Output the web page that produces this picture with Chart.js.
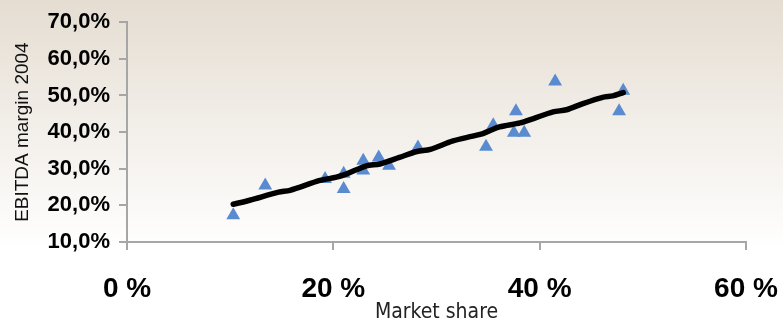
<!DOCTYPE html>
<html>
<head>
<meta charset="utf-8">
<script src="https://cdn.jsdelivr.net/npm/chart.js@4"></script>
<style>
  html, body { margin: 0; padding: 0; background: #fff; }
  #wrap { width: 783px; height: 327px; position: relative; }
</style>
</head>
<body>
<div id="wrap"><canvas id="shareChart"></canvas></div>
<script>
// market share (%) vs EBITDA margin (%) per operator
const shareX = [10.3, 13.4, 19.2, 21.0, 21.0, 22.9, 22.9, 24.4, 25.4, 28.2, 34.8, 35.5, 37.7, 37.5, 38.5, 41.5, 47.7, 48.1];
const marginY = [17.3, 25.4, 27.2, 28.6, 24.5, 32.2, 29.5, 33.1, 30.8, 35.8, 36.0, 41.9, 45.7, 39.8, 39.8, 53.8, 45.7, 51.3];

// smoothed trend through the cloud
const trendX = [10.3, 11.9, 14.7, 15.8, 18.7, 20.3, 21.3, 23.2, 24.5, 26.4, 28.1, 29.4, 31.6, 33.5, 34.5, 36.1, 38.1, 39.4, 41.3, 42.6, 44.2, 46.1, 47.1, 48.1];
const trendY = [20.3, 21.4, 23.6, 24.1, 26.8, 27.7, 28.6, 30.8, 31.3, 33.1, 34.7, 35.3, 37.6, 38.9, 39.6, 41.4, 42.5, 43.7, 45.5, 46.1, 47.8, 49.5, 49.9, 50.8];

const xTicks = [0, 20, 40, 60];
const yTicks = [10, 20, 30, 40, 50, 60, 70];

let points = shareX.map(function (x, i) { return { x: x, y: marginY[i] }; });
let trend = trendX.map(function (x, i) { return { x: x, y: trendY[i] }; });

// beige-to-white wash behind everything
const bgPlugin = {
  id: "bgWash",
  beforeDraw: function (chart) {
    let c = chart.ctx;
    let g = c.createLinearGradient(0, 0, 0, 250);
    g.addColorStop(0, "#e5ddd2");
    g.addColorStop(1, "#ffffff");
    c.save();
    c.fillStyle = g;
    c.fillRect(0, 0, chart.width, chart.height);
    c.restore();
  },
};

let ctx = document.getElementById("shareChart").getContext("2d");
new Chart(ctx, {
  type: "scatter",
  data: {
    datasets: [
      {
        label: "trend",
        data: trend,
        showLine: true,
        borderColor: "#000000",
        borderWidth: 5.5,
        borderCapStyle: "round",
        tension: 0.3,
        pointRadius: 0,
      },
      {
        label: "operators",
        data: points,
        pointStyle: "triangle",
        pointRadius: 8,
        backgroundColor: "#5a8bd0",
        borderColor: "#5a8bd0",
        borderWidth: 0,
      },
    ],
  },
  options: {
    responsive: true,
    maintainAspectRatio: false,
    animation: false,
    layout: { padding: { top: 20, right: 37, left: 0, bottom: 0 } },
    plugins: {
      legend: { display: false },
      tooltip: { enabled: false },
    },
    scales: {
      x: {
        type: "linear",
        min: 0,
        max: 60,
        afterBuildTicks: function (axis) {
          axis.ticks = xTicks.map(function (v) { return { value: v }; });
        },
        afterFit: function (axis) {
          axis.height = 85;
          axis.paddingLeft = 0;
          axis.paddingRight = 0;
        },
        grid: { drawOnChartArea: false, tickLength: 8, color: "#a6a6a6", lineWidth: 2 },
        border: { color: "#a6a6a6", width: 2 },
        ticks: {
          maxRotation: 0,
          padding: 22,
          color: "#000",
          font: { family: "'Liberation Sans Narrow', 'Liberation Sans', Arial", size: 28, weight: "bold" },
          callback: function (v) { return v + " %"; },
        },
        title: {
          display: true,
          text: "Market share",
          color: "#222",
          padding: { top: 0, bottom: 2 },
          font: { family: "'DejaVu Sans Condensed', 'DejaVu Sans'", size: 21 },
        },
      },
      y: {
        type: "linear",
        min: 10,
        max: 70,
        afterBuildTicks: function (axis) {
          axis.ticks = yTicks.map(function (v) { return { value: v }; });
        },
        afterFit: function (axis) { axis.width = 127; },
        grid: { drawOnChartArea: false, tickLength: 8, color: "#a6a6a6", lineWidth: 2 },
        border: { color: "#a6a6a6", width: 2 },
        ticks: {
          padding: 9,
          color: "#000",
          font: { family: "'Liberation Sans', Arial", size: 22, weight: "bold" },
          callback: function (v) { return v.toFixed(1).replace(".", ",") + "%"; },
        },
        title: {
          display: true,
          text: "EBITDA margin 2004",
          color: "#111",
          padding: { top: 11, bottom: 0 },
          font: { family: "'Liberation Sans', Arial", size: 19 },
        },
      },
    },
  },
  plugins: [bgPlugin],
});
</script>
</body>
</html>
